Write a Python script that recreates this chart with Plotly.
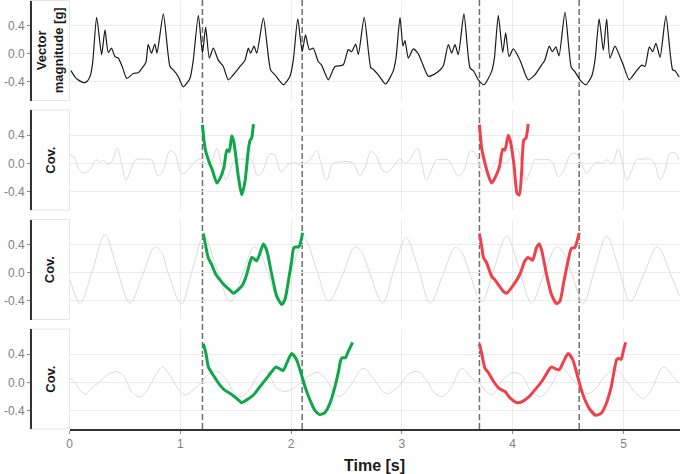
import plotly.graph_objects as go

# ---------------- data ----------------
vm_t = [0.013, 0.06, 0.125, 0.16, 0.19, 0.21, 0.245, 0.29, 0.32, 0.35, 0.38, 0.41, 0.44, 0.48, 0.516,
        0.576, 0.62, 0.666, 0.69, 0.71, 0.74, 0.77, 0.79, 0.847, 0.907, 0.937, 0.98, 1.027, 1.087, 1.117,
        1.163, 1.20, 1.229, 1.262, 1.298, 1.343, 1.388, 1.433, 1.478, 1.539, 1.584, 1.614, 1.635, 1.665,
        1.69, 1.75, 1.815, 1.855, 1.93, 1.99, 2.02, 2.06, 2.10, 2.13, 2.165, 2.20, 2.245, 2.275, 2.336,
        2.396, 2.47, 2.516, 2.546, 2.583, 2.607, 2.66, 2.72, 2.74, 2.787, 2.853, 2.92, 2.947, 2.983, 3.01,
        3.028, 3.058, 3.103, 3.148, 3.178, 3.238, 3.283, 3.344, 3.374, 3.419, 3.449, 3.479, 3.509, 3.56,
        3.615, 3.645, 3.69, 3.741, 3.81, 3.835, 3.87, 3.91, 3.937, 3.967, 4.006, 4.066, 4.14, 4.20, 4.26,
        4.29, 4.33, 4.357, 4.39, 4.418, 4.472, 4.53, 4.56, 4.607, 4.66, 4.713, 4.743, 4.78, 4.818, 4.848,
        4.878, 4.923, 4.968, 4.998, 5.052, 5.104, 5.164, 5.194, 5.233, 5.263, 5.293, 5.33, 5.383, 5.444,
        5.465, 5.503]
vm_v = [-0.24, -0.35, -0.41, -0.39, -0.30, -0.11, 0.52, -0.01, 0.34, 0.02, 0.08, -0.04, -0.06, -0.20, -0.35,
        -0.28, -0.27, -0.18, -0.12, 0.13, 0.01, 0.14, 0.01, 0.57, -0.18, -0.23, -0.32, -0.47, -0.35, -0.09,
        0.55, 0.01, 0.38, -0.06, 0.08, -0.09, -0.18, -0.37, -0.30, -0.18, -0.09, 0.08, 0.01, 0.11,
        0.01, 0.51, -0.23, -0.30, -0.44, -0.32, -0.09, 0.50, 0.03, 0.27, 0.06, 0.08, -0.11, -0.16, -0.37,
        -0.18, -0.16, 0.06, 0.03, 0.14, -0.01, 0.52, -0.20, -0.22, -0.30, -0.43, -0.25, -0.06, 0.52, 0.11,
        0.19, -0.06, 0.07, 0.00, -0.11, -0.32, -0.30, -0.23, -0.17, 0.13, 0.01, 0.13, -0.01, 0.57,
        -0.20, -0.24, -0.37, -0.44, -0.25, -0.06, 0.55, 0.02, 0.30, -0.04, 0.07, -0.09, -0.37, -0.30, -0.16,
        -0.09, 0.11, 0.03, 0.10, -0.03, 0.59, -0.20, -0.25, -0.37, -0.44, -0.32, -0.09, 0.50, 0.05, 0.50,
        -0.06, 0.11, -0.04, -0.16, -0.37, -0.27, -0.16, -0.18, 0.10, 0.03, 0.15, -0.05, 0.54, -0.23,
        -0.24, -0.33]

g2_t = [0.005, 0.04, 0.08, 0.125, 0.18, 0.24, 0.275, 0.31, 0.35, 0.39, 0.43, 0.47, 0.51, 0.546, 0.59, 0.65,
        0.70, 0.74, 0.80, 0.846, 0.907, 0.95, 1.01, 1.057, 1.117, 1.177, 1.21, 1.25, 1.29, 1.33, 1.37, 1.41,
        1.446, 1.49, 1.55, 1.60, 1.64, 1.70, 1.746, 1.807, 1.85, 1.91, 1.97, 2.03, 2.09, 2.17, 2.23, 2.27,
        2.32, 2.38, 2.44, 2.53, 2.57, 2.62, 2.67, 2.72, 2.77, 2.83, 2.875, 2.935, 2.98, 3.03, 3.07, 3.14,
        3.18, 3.22, 3.26, 3.31, 3.37, 3.41, 3.44, 3.51, 3.56, 3.62, 3.66, 3.71, 3.73, 3.775, 3.835, 3.88,
        3.93, 3.97, 4.04, 4.08, 4.12, 4.16, 4.20, 4.25, 4.33, 4.37, 4.41, 4.46, 4.52, 4.57, 4.62, 4.668,
        4.73, 4.77, 4.81, 4.85, 4.90, 4.95, 4.99, 5.03, 5.07, 5.12, 5.18, 5.24, 5.28, 5.33, 5.37, 5.42,
        5.47, 5.50]
g2_v = [0.12, 0.09, -0.07, -0.14, -0.10, 0.05, 0.02, 0.04, -0.02, 0.05, 0.22, 0.00, -0.24, -0.12, 0.04, 0.06,
        0.06, 0.05, -0.18, -0.10, 0.18, 0.14, -0.14, -0.12, 0.00, 0.06, 0.03, -0.02, 0.05, 0.21, 0.00, -0.24,
        -0.12, 0.04, 0.06, 0.06, 0.05, -0.18, -0.10, 0.13, 0.12, -0.12, -0.02, 0.01, -0.02, 0.05, 0.18, 0.00,
        -0.24, 0.00, 0.02, 0.02, -0.02, -0.17, -0.05, 0.17, 0.10, -0.11, -0.12, -0.02, 0.06, 0.00, 0.05, 0.21,
        0.00, -0.24, -0.12, 0.05, 0.05, 0.06, 0.00, -0.18, -0.10, 0.18, 0.15, -0.07, -0.11, -0.12, -0.02, 0.06,
        0.00, 0.05, 0.21, 0.00, -0.24, -0.10, 0.05, 0.05, 0.05, -0.02, -0.19, -0.10, 0.12, 0.14, 0.00, -0.14,
        -0.02, 0.02, 0.00, 0.05, 0.00, 0.21, 0.00, -0.24, -0.12, 0.05, 0.06, 0.06, 0.00, -0.23, -0.12, 0.15,
        0.14, 0.05]

g3_t = [0.005, 0.095, 0.21, 0.32, 0.43, 0.546, 0.66, 0.77, 0.83, 0.89, 1.01, 1.11, 1.214, 1.33, 1.45, 1.56,
        1.665, 1.72, 1.79, 1.90, 2.01, 2.117, 2.23, 2.34, 2.46, 2.577, 2.637, 2.71, 2.826, 2.93, 3.037, 3.15,
        3.254, 3.37, 3.48, 3.54, 3.61, 3.72, 3.83, 3.946, 4.06, 4.17, 4.28, 4.397, 4.457, 4.53, 4.637, 4.74,
        4.848, 4.96, 5.06, 5.18, 5.30, 5.34, 5.42, 5.504]
g3_v = [-0.10, -0.43, 0.05, 0.54, 0.05, -0.43, -0.03, 0.37, 0.29, 0.00, -0.44, 0.05, 0.52, 0.05, -0.41, -0.03,
        0.37, 0.29, 0.00, -0.43, 0.05, 0.50, 0.05, -0.40, -0.05, 0.37, 0.29, 0.00, -0.43, 0.05, 0.50, 0.05,
        -0.43, -0.03, 0.36, 0.29, 0.00, -0.41, 0.05, 0.52, 0.05, -0.43, -0.03, 0.37, 0.29, 0.00, -0.43, 0.05,
        0.52, 0.05, -0.41, -0.03, 0.37, 0.31, 0.00, -0.33]

g4_t = [0.005, 0.05, 0.14, 0.215, 0.26, 0.335, 0.426, 0.485, 0.56, 0.636, 0.71, 0.77, 0.84, 0.907, 0.967,
        1.043, 1.117, 1.193, 1.27, 1.34, 1.42, 1.48, 1.554, 1.63, 1.69, 1.75, 1.81, 1.87, 1.945, 2.02, 2.095,
        2.17, 2.245, 2.32, 2.41, 2.44, 2.53, 2.65, 2.74, 2.86, 2.967, 3.07, 3.15, 3.22, 3.30, 3.37, 3.45,
        3.54, 3.63, 3.70, 3.76, 3.82, 3.91, 4.00, 4.08, 4.17, 4.26, 4.35, 4.44, 4.53, 4.60, 4.68, 4.75,
        4.84, 4.94, 5.02, 5.10, 5.18, 5.25, 5.36, 5.45, 5.50]
g4_v = [0.07, -0.01, -0.17, -0.06, -0.01, 0.10, 0.15, 0.10, -0.13, -0.21, -0.09, 0.08, 0.22, 0.10, -0.06,
        -0.18, -0.11, 0.01, 0.13, 0.15, 0.03, -0.13, -0.20, -0.09, 0.08, 0.18, 0.08, -0.09, -0.13, -0.09, 0.01,
        0.10, 0.14, 0.03, -0.18, -0.20, -0.06, 0.20, 0.06, -0.16, -0.06, 0.13, 0.15, 0.03, -0.16, -0.20, -0.06,
        0.20, 0.06, -0.01, -0.13, -0.17, 0.03, 0.14, 0.10, -0.13, -0.20, -0.04, 0.20, 0.06, -0.06, -0.16, -0.09,
        0.10, 0.17, 0.03, -0.13, -0.23, -0.11, 0.22, 0.08, -0.01]

green2_t = [1.20, 1.215, 1.23, 1.26, 1.29, 1.33, 1.36, 1.395, 1.42, 1.442, 1.464, 1.48, 1.494, 1.524, 1.554,
            1.584, 1.614, 1.63, 1.644, 1.66]
green2_v = [0.55, 0.31, 0.17, 0.02, -0.10, -0.28, -0.21, -0.05, 0.19, 0.17, 0.39, 0.33, 0.19, -0.19, -0.45,
            -0.26, 0.19, 0.33, 0.36, 0.56]
red2_t = [3.70, 3.72, 3.75, 3.78, 3.81, 3.84, 3.88, 3.91, 3.93, 3.96, 3.98, 4.01, 4.04, 4.06, 4.08, 4.10,
          4.12, 4.14]
red2_v = [0.55, 0.21, 0.00, -0.17, -0.28, -0.21, -0.05, 0.20, 0.19, 0.40, 0.31, 0.00, -0.43, -0.45, -0.14,
          0.33, 0.36, 0.56]

green3_t = [1.208, 1.232, 1.253, 1.283, 1.32, 1.358, 1.394, 1.45, 1.478, 1.524, 1.563, 1.60, 1.623, 1.644,
            1.665, 1.689, 1.71, 1.75, 1.78, 1.825, 1.87, 1.915, 1.945, 1.975, 2.005, 2.026, 2.065, 2.08, 2.104]
green3_v = [0.56, 0.36, 0.21, 0.12, -0.02, -0.10, -0.17, -0.25, -0.29, -0.24, -0.17, -0.02, 0.12, 0.22,
            0.20, 0.17, 0.24, 0.41, 0.32, -0.02, -0.33, -0.45, -0.38, -0.12, 0.17, 0.36, 0.37, 0.40, 0.57]
red3_t = [3.70, 3.72, 3.736, 3.766, 3.81, 3.84, 3.88, 3.92, 3.946, 4.00, 4.065, 4.11, 4.14, 4.18, 4.215,
          4.24, 4.26, 4.305, 4.35, 4.397, 4.427, 4.46, 4.50, 4.53, 4.56, 4.60]
red3_v = [0.56, 0.38, 0.22, 0.14, -0.05, -0.10, -0.19, -0.27, -0.29, -0.19, -0.02, 0.17, 0.22, 0.18, 0.36,
          0.41, 0.33, -0.02, -0.31, -0.44, -0.40, -0.14, 0.17, 0.35, 0.36, 0.57]

green4_t = [1.208, 1.232, 1.253, 1.298, 1.358, 1.40, 1.45, 1.51, 1.554, 1.60, 1.66, 1.72, 1.78, 1.825,
            1.864, 1.90, 1.93, 1.96, 2.005, 2.05, 2.095, 2.125, 2.17, 2.215, 2.26, 2.306, 2.35, 2.396, 2.43,
            2.445, 2.46, 2.49, 2.51, 2.555]
green4_v = [0.55, 0.41, 0.22, 0.10, -0.04, -0.11, -0.16, -0.23, -0.29, -0.25, -0.18, -0.06, 0.06, 0.15,
            0.22, 0.19, 0.17, 0.27, 0.41, 0.32, 0.10, -0.06, -0.25, -0.40, -0.46, -0.43, -0.30, -0.06, 0.17,
            0.30, 0.35, 0.35, 0.42, 0.57]
red4_t = [3.70, 3.72, 3.75, 3.78, 3.82, 3.88, 3.93, 3.98, 4.04, 4.09, 4.15, 4.21, 4.27, 4.315, 4.35, 4.39,
          4.42, 4.46, 4.50, 4.54, 4.59, 4.63, 4.69, 4.75, 4.80, 4.84, 4.89, 4.94, 4.96, 4.98, 5.00, 5.02]
red4_v = [0.55, 0.41, 0.20, 0.14, 0.03, -0.09, -0.13, -0.23, -0.29, -0.27, -0.20, -0.09, 0.03, 0.15, 0.22,
          0.19, 0.18, 0.30, 0.41, 0.33, 0.06, -0.16, -0.37, -0.47, -0.44, -0.32, -0.06, 0.33, 0.34, 0.33,
          0.46, 0.57]

boundaries = [1.2, 2.1, 3.7, 4.6]
strip_labels = [["Vector", "magnitude [g]"], ["Cov."], ["Cov."], ["Cov."]]
x_ticks = [0, 1, 2, 3, 4, 5]
y_ticks = [-0.4, 0.0, 0.4]
y_ticktext = ["-0.4", "0.0", "0.4"]
x_title = "Time [s]"

# ---------------- styling ----------------
FONT = "Liberation Sans, Arial, Helvetica, sans-serif"
GREEN = "#10a64a"
RED = "#ef4149"
GREY = "#d9d9d9"
BLACK = "#1a1a1a"
GRID = "#ebebeb"

W, H = 680, 474
ML, MR, MT, MB = 30, 0, 0, 45
PW, PH = W - ML - MR, H - MT - MB
panel_px = [(0.5, 100.5), (110, 210), (219.5, 319.5), (329, 429)]
domains = [[(PH - b) / PH, (PH - t) / PH] for (t, b) in panel_px]
xdom0 = (69.5 - ML) / PW

fig = go.Figure()

def add(x, y, i, color, width, smoothing=0.8):
    fig.add_trace(go.Scatter(
        x=x, y=y, mode="lines", xaxis="x" if i == 1 else f"x{i}", yaxis="y" if i == 1 else f"y{i}",
        line=dict(color=color, width=width, shape="spline", smoothing=smoothing),
        hoverinfo="skip", showlegend=False))

add(vm_t, vm_v, 1, BLACK, 1.2, 0.6)
add(g2_t, g2_v, 2, GREY, 1.0, 1.0)
add(g3_t, g3_v, 3, GREY, 1.0, 1.0)
add(g4_t, g4_v, 4, GREY, 1.0, 1.0)
add(green2_t, green2_v, 2, GREEN, 3.0, 0.6)
add(red2_t, red2_v, 2, RED, 3.0, 0.6)
add(green3_t, green3_v, 3, GREEN, 3.0, 0.6)
add(red3_t, red3_v, 3, RED, 3.0, 0.6)
add(green4_t, green4_v, 4, GREEN, 3.0, 0.6)
add(red4_t, red4_v, 4, RED, 3.0, 0.6)

layout = dict(
    width=W, height=H, margin=dict(l=ML, r=MR, t=MT, b=MB, autoexpand=False),
    paper_bgcolor="white", plot_bgcolor="white", showlegend=False,
    font=dict(family=FONT, size=12, color="#7f7f7f"),
)
shapes, annotations = [], []
for i in range(1, 5):
    xk = "xaxis" if i == 1 else f"xaxis{i}"
    yk = "yaxis" if i == 1 else f"yaxis{i}"
    ya = "y" if i == 1 else f"y{i}"
    layout[xk] = dict(
        domain=[xdom0, 1], anchor=ya, range=[0, 5.51], tickvals=x_ticks,
        showgrid=True, gridcolor=GRID, gridwidth=1, zeroline=False,
        showticklabels=(i == 4), automargin=False,
        showline=(i == 4), linecolor="#333333", linewidth=1.6,
        ticks="outside" if i == 4 else "", ticklen=3, tickcolor="#8a8a8a",
        tickfont=dict(family=FONT, size=12, color="#7f7f7f"),
    )
    if i != 4:
        layout[xk]["matches"] = "x4"
    layout[yk] = dict(
        domain=domains[i - 1], anchor="free", position=0, range=[-0.665, 0.76],
        tickvals=y_ticks, ticktext=y_ticktext, showgrid=True, gridcolor=GRID, gridwidth=1,
        zeroline=False, showline=True, linecolor="#333333", linewidth=1.6,
        ticks="outside", ticklen=3, tickcolor="#8a8a8a", automargin=False,
        tickfont=dict(family=FONT, size=12, color="#7f7f7f"),
    )
    # strip box
    shapes.append(dict(type="rect", xref="paper", x0=0, x1=xdom0, yref=f"{ya} domain", y0=0, y1=1,
                       line=dict(color="#e6e6e6", width=1), fillcolor="white", layer="below"))
    txt = "<br>".join(f"<b>{s}</b>" for s in strip_labels[i - 1])
    annotations.append(dict(text=txt, xref="paper", x=xdom0 / 2, xanchor="center",
                            yref=f"{ya} domain", y=0.5, yanchor="middle", textangle=-90,
                            showarrow=False,
                            font=dict(family=FONT, size=13, color=BLACK)))

for b in boundaries:
    shapes.append(dict(type="line", xref="x4", x0=b, x1=b, yref="paper", y0=0, y1=1,
                       line=dict(color="#6e6e6e", width=1.5, dash="6px,3px"), layer="below"))

annotations.append(dict(text=f"<b>{x_title}</b>", xref="paper", x=(374.75 - ML) / PW, xanchor="center",
                        yref="paper", y=(PH - 465) / PH, yanchor="middle", showarrow=False,
                        font=dict(family=FONT, size=16, color=BLACK)))

layout["shapes"] = shapes
layout["annotations"] = annotations
fig.update_layout(**layout)
fig.write_html("out.html", config={"displayModeBar": False, "staticPlot": True},
               post_script="document.body.style.margin='0';document.body.style.overflow='hidden';")
